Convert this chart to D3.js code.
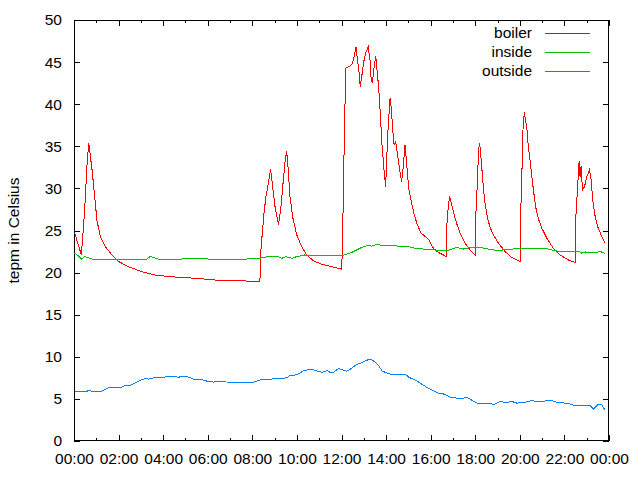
<!DOCTYPE html>
<html><head><meta charset="utf-8">
<script src="https://cdn.jsdelivr.net/npm/d3@7"></script>
<style>
html,body{margin:0;padding:0;background:#fff;}
svg text{font-family:"Liberation Sans",Arial,sans-serif;font-size:15.5px;fill:#000;}
</style></head>
<body><svg id="c" width="640" height="480"></svg>
<script>
// hours since midnight, value (deg C)
const boilerData = [[0.03,24.7],[0.33,22.1],[0.44,25.9],[0.51,29.0],[0.58,32.6],[0.66,35.4],[0.81,32.2],[0.93,29.0],[1.03,26.2],[1.18,24.3],[1.40,23.1],[1.70,22.1],[2.01,21.3],[2.45,20.7],[3.05,20.1],[3.65,19.7],[4.40,19.5],[5.59,19.3],[6.40,19.1],[7.75,19.0],[8.34,19.0],[8.39,22.9],[8.47,25.4],[8.52,27.0],[8.61,29.0],[8.72,30.6],[8.82,32.3],[8.91,30.2],[9.02,27.8],[9.17,25.7],[9.27,27.4],[9.39,31.0],[9.48,33.5],[9.54,34.4],[9.61,32.2],[9.69,29.0],[9.81,26.6],[9.99,24.5],[10.21,23.1],[10.44,22.1],[10.74,21.4],[11.11,21.0],[11.56,20.7],[12.01,20.4],[12.05,24.3],[12.10,32.2],[12.16,40.3],[12.20,44.3],[12.38,44.5],[12.49,44.8],[12.58,45.8],[12.65,46.8],[12.73,45.0],[12.79,43.7],[12.84,42.1],[12.93,43.7],[13.01,45.2],[13.10,46.2],[13.20,46.8],[13.28,45.2],[13.32,43.3],[13.38,42.5],[13.47,44.5],[13.54,45.7],[13.59,44.1],[13.65,42.5],[13.70,40.7],[13.76,38.1],[13.80,35.7],[13.86,33.8],[13.92,31.8],[13.98,30.2],[14.04,34.2],[14.10,37.7],[14.18,40.7],[14.24,39.3],[14.30,36.9],[14.36,35.2],[14.43,35.5],[14.55,33.4],[14.63,31.8],[14.70,30.8],[14.77,32.6],[14.85,35.2],[14.91,33.4],[14.97,31.4],[15.03,29.8],[15.15,28.2],[15.27,26.8],[15.40,25.7],[15.57,24.7],[15.75,24.3],[15.94,23.8],[16.12,22.9],[16.34,22.4],[16.57,22.1],[16.69,21.9],[16.72,25.4],[16.79,27.8],[16.85,29.1],[16.91,28.4],[17.02,27.2],[17.17,25.8],[17.32,24.7],[17.54,23.5],[17.77,22.7],[17.99,22.1],[18.03,27.0],[18.09,30.4],[18.14,33.8],[18.18,35.4],[18.23,34.6],[18.29,32.6],[18.36,30.2],[18.44,28.2],[18.54,26.6],[18.66,25.4],[18.81,24.5],[19.04,23.5],[19.34,22.5],[19.64,21.8],[19.93,21.4],[20.01,21.3],[20.02,24.7],[20.05,28.0],[20.10,32.6],[20.14,36.9],[20.20,39.1],[20.25,38.1],[20.31,37.3],[20.38,35.0],[20.49,32.6],[20.61,29.8],[20.71,27.8],[20.83,26.4],[20.98,25.3],[21.21,24.1],[21.50,22.9],[21.80,22.1],[22.18,21.5],[22.48,21.2],[22.52,27.0],[22.60,30.6],[22.66,33.2],[22.70,31.4],[22.75,32.6],[22.81,29.8],[22.90,30.2],[23.01,31.4],[23.12,32.2],[23.20,31.0],[23.27,28.6],[23.37,26.8],[23.50,25.4],[23.64,24.5],[23.82,23.5]];
const insideData = [[0.03,22.3],[0.20,22.0],[0.33,21.6],[0.48,21.9],[0.81,21.6],[0.96,21.5],[3.20,21.5],[3.42,21.9],[3.80,21.6],[4.70,21.6],[5.59,21.7],[6.10,21.6],[7.75,21.6],[7.90,21.7],[8.34,21.7],[8.72,21.9],[9.17,21.9],[9.32,21.7],[9.51,21.9],[9.77,21.7],[9.99,21.9],[10.36,22.1],[10.59,22.0],[11.41,22.0],[12.08,22.05],[12.35,22.3],[12.46,22.4],[12.83,22.9],[13.13,23.2],[13.36,23.15],[13.58,23.35],[13.95,23.15],[14.18,23.25],[14.70,23.1],[15.00,23.1],[15.30,22.9],[15.67,22.8],[16.12,22.7],[16.50,22.6],[16.79,22.65],[17.17,23.0],[17.47,22.8],[17.84,23.0],[18.21,23.0],[18.59,22.8],[19.04,22.6],[19.26,22.7],[19.71,22.8],[19.86,22.9],[20.23,22.8],[20.76,22.9],[21.21,22.85],[21.58,22.6],[21.88,22.5],[22.48,22.45],[22.62,22.55],[22.78,22.3],[22.93,22.45],[23.15,22.4],[23.45,22.4],[23.60,22.5],[23.82,22.3]];
const outsideData = [[0.03,5.8],[0.13,5.9],[0.58,5.9],[0.66,6.0],[0.81,5.9],[1.22,5.9],[1.40,6.1],[1.58,6.4],[2.15,6.4],[2.30,6.6],[2.52,6.6],[2.75,6.9],[2.97,7.2],[3.17,7.4],[3.35,7.35],[3.57,7.5],[4.02,7.5],[4.17,7.7],[4.55,7.7],[4.67,7.55],[4.85,7.7],[5.07,7.65],[5.37,7.35],[5.74,7.3],[5.97,7.1],[6.27,7.0],[6.56,7.1],[6.86,7.0],[8.06,7.0],[8.29,7.2],[8.51,7.35],[8.88,7.35],[9.03,7.45],[9.41,7.45],[9.56,7.55],[9.70,7.8],[10.00,7.85],[10.15,8.1],[10.33,8.4],[10.68,8.5],[10.90,8.3],[11.13,8.15],[11.35,8.35],[11.50,8.15],[11.65,8.15],[11.71,8.3],[11.86,8.6],[12.01,8.5],[12.23,8.3],[12.38,8.5],[12.68,9.1],[12.91,9.3],[13.13,9.6],[13.32,9.7],[13.50,9.4],[13.65,9.0],[13.83,8.3],[14.10,8.0],[14.32,7.85],[14.55,7.95],[14.85,7.95],[15.03,7.55],[15.30,7.25],[15.52,6.9],[15.78,6.45],[16.05,6.05],[16.34,5.7],[16.64,5.55],[16.87,5.2],[17.17,5.1],[17.47,5.1],[17.62,5.2],[17.84,4.85],[18.14,4.4],[18.74,4.4],[18.81,4.3],[19.14,4.7],[19.34,4.55],[19.64,4.7],[19.86,4.5],[20.23,4.6],[20.53,4.8],[20.76,4.7],[21.05,4.7],[21.35,4.85],[21.66,4.6],[22.18,4.45],[22.48,4.2],[23.15,4.2],[23.30,3.8],[23.52,4.35],[23.67,4.3],[23.82,3.7]];
const seriesNames = ["boiler","inside","outside"];
const seriesColors = ["#ff0000","#00c000","#0080ff"];
const yTicks = [0,5,10,15,20,25,30,35,40,45,50];
const yLabel = "tepm in Celsius";

const day0 = new Date(2000,0,1,0,0,0), day1 = new Date(2000,0,2,0,0,0);
const toDate = h => new Date(day0.getTime() + h*3600e3);

const L=74, R=609, T=20, B=441;
const svg = d3.select("#c");
const x = d3.scaleTime().domain([day0, day1]).range([L, R]);
const y = d3.scaleLinear().domain([0,50]).range([B, T]);

function styleAxis(g){ g.select(".domain").remove(); g.selectAll("line").attr("stroke","#000").attr("shape-rendering","crispEdges"); g.selectAll("text").attr("fill","#000"); g.attr("font-family",null).attr("font-size",null); }

// minor x ticks
svg.append("g").attr("transform",`translate(0,${B})`).call(d3.axisBottom(x).ticks(d3.timeHour.every(1)).tickFormat("").tickSizeInner(-3).tickSizeOuter(0)).call(styleAxis);
svg.append("g").attr("transform",`translate(0,${T})`).call(d3.axisTop(x).ticks(d3.timeHour.every(1)).tickFormat("").tickSizeInner(-3).tickSizeOuter(0)).call(styleAxis);
// major x ticks
svg.append("g").attr("transform",`translate(0,${B})`).call(d3.axisBottom(x).ticks(d3.timeHour.every(2)).tickFormat(d3.timeFormat("%H:%M")).tickSizeInner(-6).tickSizeOuter(0).tickPadding(12)).call(styleAxis);
svg.append("g").attr("transform",`translate(0,${T})`).call(d3.axisTop(x).ticks(d3.timeHour.every(2)).tickFormat("").tickSizeInner(-6).tickSizeOuter(0)).call(styleAxis);
// y ticks
svg.append("g").attr("transform",`translate(${L},0)`).call(d3.axisLeft(y).tickValues(yTicks).tickSizeInner(-6).tickSizeOuter(0).tickPadding(12)).call(styleAxis);
svg.append("g").attr("transform",`translate(${R},0)`).call(d3.axisRight(y).tickValues(yTicks).tickFormat("").tickSizeInner(-6).tickSizeOuter(0)).call(styleAxis);

// border
svg.append("rect").attr("x",L+0.5).attr("y",T+0.5).attr("width",R-L-1).attr("height",B-T-1).attr("fill","none").attr("stroke","#000").attr("stroke-width",1).attr("shape-rendering","crispEdges");

// y label
svg.append("text").attr("transform",`translate(19,${(T+B)/2}) rotate(-90)`).attr("text-anchor","middle").text(yLabel);

const line = d3.line().x(d=>x(toDate(d[0]))).y(d=>y(d[1]));
const datasets = [boilerData, insideData, outsideData];
datasets.forEach((data,i)=>{
  svg.append("path").datum(data).attr("d",line).attr("fill","none").attr("stroke",seriesColors[i]).attr("stroke-width",1).attr("shape-rendering","crispEdges");
});

// legend
const legendY = [33,52,71];
seriesNames.forEach((n,i)=>{
  svg.append("text").attr("x",532).attr("y",legendY[i]).attr("dy","0.35em").attr("text-anchor","end").text(n);
  svg.append("line").attr("x1",545).attr("x2",590).attr("y1",legendY[i]+0.5).attr("y2",legendY[i]+0.5).attr("stroke",seriesColors[i]).attr("stroke-width",1).attr("shape-rendering","crispEdges");
});
</script></body></html>
